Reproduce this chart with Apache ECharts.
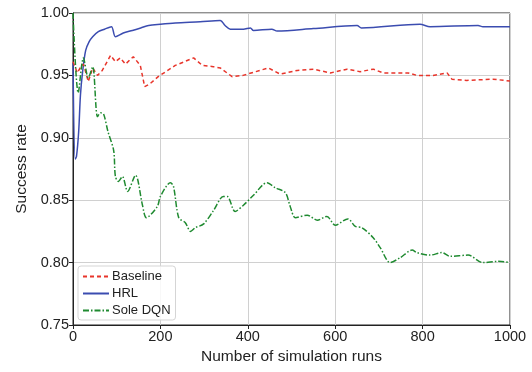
<!DOCTYPE html>
<html><head><meta charset="utf-8">
<script src="https://cdn.jsdelivr.net/npm/echarts@6/dist/echarts.min.js"></script>
<style>html,body{margin:0;padding:0;background:#fff}#c{width:532px;height:372px}</style>
</head><body><div id="c"></div>
<script>
const xTicks = [0, 200, 400, 600, 800, 1000];
const yTicks = [0.75, 0.80, 0.85, 0.90, 0.95, 1.00];

const baselineX = [0,10,18,24,35,45,56,67,86,97,108,120,138,154,164,175,195,234,276,296,321,337,364,389,447,474,513,550,589,627,657,687,710,741,767,787,824,856,867,901,961,1000];
const baselineY = [0.961,0.952,0.957,0.959,0.945,0.956,0.950,0.954,0.966,0.961,0.964,0.959,0.965,0.958,0.941,0.943,0.949,0.958,0.964,0.958,0.957,0.956,0.949,0.950,0.956,0.951,0.954,0.955,0.952,0.955,0.953,0.955,0.952,0.952,0.952,0.950,0.950,0.952,0.947,0.946,0.947,0.9455];

const hrlX = [0,5,8,13,17,22,29,37,45,58,72,88,97,115,136,155,173,200,234,291,337,348,360,390,406,413,455,467,550,650,660,794,817,927,938,1000];
const hrlY = [0.960,0.883,0.885,0.905,0.934,0.953,0.970,0.977,0.981,0.985,0.987,0.989,0.981,0.984,0.986,0.988,0.990,0.991,0.992,0.993,0.994,0.990,0.987,0.987,0.988,0.986,0.987,0.9855,0.9875,0.990,0.988,0.991,0.989,0.990,0.989,0.989];

const dqnX = [0,12,24,35,45,56,63,70,80,93,97,104,113,125,143,159,168,193,200,223,230,242,257,269,280,299,322,344,353,371,390,413,444,463,486,497,509,536,559,581,600,629,646,661,687,703,726,749,776,787,817,844,863,904,938,973,1000];
const dqnY = [1.000,0.936,0.964,0.948,0.957,0.917,0.920,0.919,0.905,0.890,0.869,0.865,0.869,0.857,0.870,0.846,0.836,0.845,0.853,0.864,0.861,0.836,0.832,0.825,0.828,0.831,0.842,0.853,0.853,0.841,0.846,0.854,0.864,0.860,0.856,0.845,0.836,0.838,0.834,0.837,0.830,0.835,0.829,0.828,0.820,0.812,0.800,0.804,0.810,0.808,0.806,0.808,0.805,0.806,0.800,0.801,0.800];

const seriesNames = ['Baseline', 'HRL', 'Sole DQN'];
const zip = (xs, ys) => xs.map((x, i) => [x, ys[i]]);

const font = 'Liberation Sans, Arial, sans-serif';
const chart = echarts.init(document.getElementById('c'), null, {renderer: 'canvas'});
chart.setOption({
  animation: false,
  backgroundColor: '#fff',
  grid: {left: 73, right: 22, top: 13, bottom: 47, show: true, borderColor: '#222', borderWidth: 1, backgroundColor: 'transparent'},
  xAxis: {
    type: 'value', min: xTicks[0], max: xTicks[xTicks.length - 1], interval: 200,
    name: 'Number of simulation runs', nameLocation: 'middle', nameGap: 23,
    nameTextStyle: {fontFamily: font, fontSize: 15.5, color: '#222'},
    axisLine: {show: true, lineStyle: {color: '#222', width: 1}},
    axisTick: {show: true, inside: false, length: 4, lineStyle: {color: '#222'}},
    axisLabel: {fontFamily: font, fontSize: 14.5, color: '#222', margin: 4, formatter: v => String(v)},
    splitLine: {show: true, lineStyle: {color: '#d0d0d0', width: 1}}
  },
  yAxis: {
    type: 'value', min: yTicks[0], max: yTicks[yTicks.length - 1], interval: 0.05,
    name: 'Success rate', nameLocation: 'middle', nameGap: 43,
    nameTextStyle: {fontFamily: font, fontSize: 15.5, color: '#222'},
    axisLine: {show: true, lineStyle: {color: '#222', width: 1}},
    axisTick: {show: true, inside: false, length: 4, lineStyle: {color: '#222'}},
    axisLabel: {fontFamily: font, fontSize: 14.5, color: '#222', margin: 4, formatter: v => v.toFixed(2)},
    splitLine: {show: true, lineStyle: {color: '#d0d0d0', width: 1}}
  },
  legend: {
    orient: 'vertical', left: 78, top: 266,
    data: seriesNames,
    itemWidth: 26, itemHeight: 12, itemGap: 4,
    padding: [4, 5, 3, 4],
    borderColor: '#d5d5d5', borderWidth: 1, borderRadius: 3, backgroundColor: 'rgba(255,255,255,0.85)',
    itemStyle: {opacity: 0},
    textStyle: {fontFamily: font, fontSize: 13, color: '#222', padding: [0, 0, 0, -2]}
  },
  series: [
    {name: seriesNames[0], type: 'line', data: zip(baselineX, baselineY), showSymbol: false, symbol: 'none',
     lineStyle: {color: '#e8352b', width: 1.5, type: [4, 3]}, itemStyle: {color: '#e8352b'}, z: 3},
    {name: seriesNames[1], type: 'line', data: zip(hrlX, hrlY), showSymbol: false, symbol: 'none', smooth: 0.3,
     lineStyle: {color: '#3b4cb0', width: 1.5}, itemStyle: {color: '#3b4cb0'}, z: 2},
    {name: seriesNames[2], type: 'line', data: zip(dqnX, dqnY), showSymbol: false, symbol: 'none', smooth: 0.3,
     lineStyle: {color: '#1f8a30', width: 1.5, type: [6, 2, 1.5, 2]}, itemStyle: {color: '#1f8a30'}, z: 4}
  ]
});
</script></body></html>
